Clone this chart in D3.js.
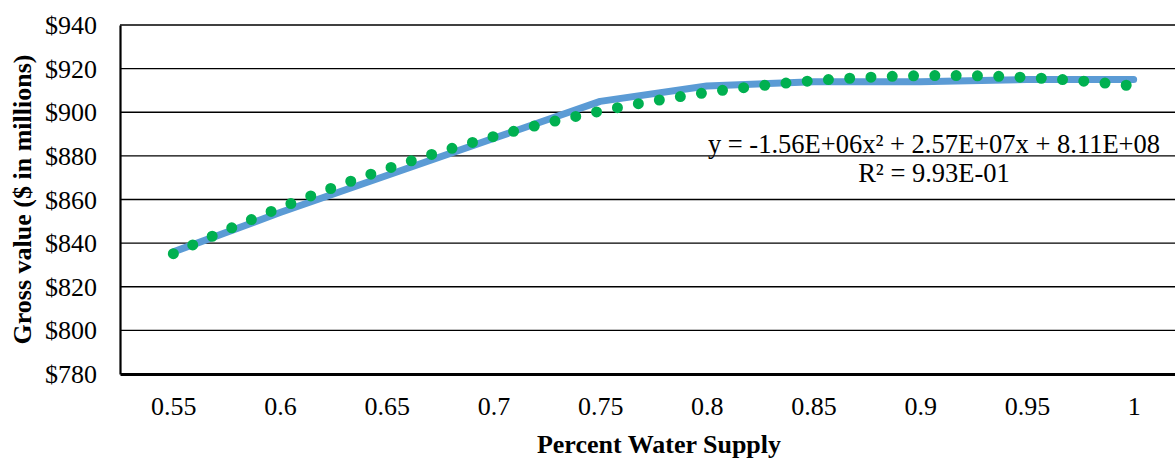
<!DOCTYPE html>
<html>
<head>
<meta charset="utf-8">
<script src="https://cdn.jsdelivr.net/npm/d3@7"></script>
<style>
  html, body { margin: 0; padding: 0; background: #fff; }
  svg { display: block; }
  text { font-family: "Liberation Serif", "Times New Roman", serif; fill: #000; }
</style>
</head>
<body>
<svg id="chart" width="1175" height="458"></svg>
<script>
// ---- data ----
const categories = ["0.55", "0.6", "0.65", "0.7", "0.75", "0.8", "0.85", "0.9", "0.95", "1"];
const grossValue = [836, 854, 871, 888, 905, 912, 914, 914, 915, 915]; // $ millions
const yTicks = [780, 800, 820, 840, 860, 880, 900, 920, 940];
// polynomial trendline (from chart label), x = category index 1..n, y in dollars
const trendCoef = [-1.56e6, 2.57e7, 8.11e8];
const trendLabel = ["y = -1.56E+06x\u00B2 + 2.57E+07x + 8.11E+08", "R\u00B2 = 9.93E-01"];
const xTitle = "Percent Water Supply";
const yTitle = "Gross value ($ in millions)";

(function () {
// ---- layout ----
const svg = d3.select("#chart");
const pL = 120, pR = 1187, pT = 25, pB = 374;
const FONT = "Liberation Serif, Times New Roman, serif";

const x = d3.scalePoint().domain(categories).range([pL, pR]).padding(0.5);
const y = d3.scaleLinear().domain([780, 940]).range([pB, pT]);
const xIdx = d3.scaleLinear().domain([1, categories.length])
  .range([x(categories[0]), x(categories[categories.length - 1])]);

// gridlines
svg.append("g").selectAll("line").data(yTicks.filter(d => d !== 780)).join("line")
  .attr("x1", pL).attr("x2", pR)
  .attr("y1", d => y(d)).attr("y2", d => y(d))
  .attr("stroke", "#000").attr("stroke-width", 1.4);

// y axis
const yAxis = d3.axisLeft(y).tickValues(yTicks).tickSize(0).tickPadding(23)
  .tickFormat(d => "$" + d);
const gy = svg.append("g").attr("transform", `translate(${pL},0)`).call(yAxis);
gy.select(".domain").attr("stroke", "#000").attr("stroke-width", 2.2);
gy.selectAll("text").attr("font-size", 26).attr("font-family", FONT)
  .attr("dy", "0.33em");

// x axis
const xAxis = d3.axisBottom(x).tickSize(0).tickPadding(23);
const gx = svg.append("g").attr("transform", `translate(0,${pB})`).call(xAxis);
gx.select(".domain").attr("stroke", "#000").attr("stroke-width", 2.8);
gx.selectAll("text").attr("font-size", 26).attr("font-family", FONT)
  .attr("dy", "0.71em");

// data line
const line = d3.line().x((d, i) => x(categories[i])).y(d => y(d));
svg.append("path").datum(grossValue)
  .attr("d", line)
  .attr("fill", "none").attr("stroke", "#5B9BD5").attr("stroke-width", 7)
  .attr("stroke-linecap", "round").attr("stroke-linejoin", "round");

// trendline (round dots)
const trendFn = t => (trendCoef[0] * t * t + trendCoef[1] * t + trendCoef[2]) / 1e6;
const samples = d3.range(1, categories.length + 0.0001, 0.05);
const trendLine = d3.line().x(t => xIdx(t)).y(t => y(trendFn(t))).curve(d3.curveMonotoneX);
svg.append("path").datum(samples)
  .attr("d", trendLine)
  .attr("fill", "none").attr("stroke", "#00B050").attr("stroke-width", 11)
  .attr("stroke-linecap", "round").attr("stroke-dasharray", "0 21.3");

// trendline label
svg.append("text").attr("x", 934).attr("y", 153).attr("text-anchor", "middle")
  .attr("font-size", 26.5).attr("font-family", FONT).text(trendLabel[0]);
svg.append("text").attr("x", 934).attr("y", 182).attr("text-anchor", "middle")
  .attr("font-size", 26.5).attr("font-family", FONT).text(trendLabel[1]);

// axis titles
svg.append("text").attr("x", 659).attr("y", 453)
  .attr("text-anchor", "middle").attr("font-size", 26).attr("font-weight", "bold")
  .attr("font-family", FONT).text(xTitle);
svg.append("text").attr("transform", `translate(31,${(pT + pB) / 2}) rotate(-90)`)
  .attr("text-anchor", "middle").attr("font-size", 26).attr("font-weight", "bold")
  .attr("font-family", FONT).text(yTitle);
})();
</script>
</body>
</html>
